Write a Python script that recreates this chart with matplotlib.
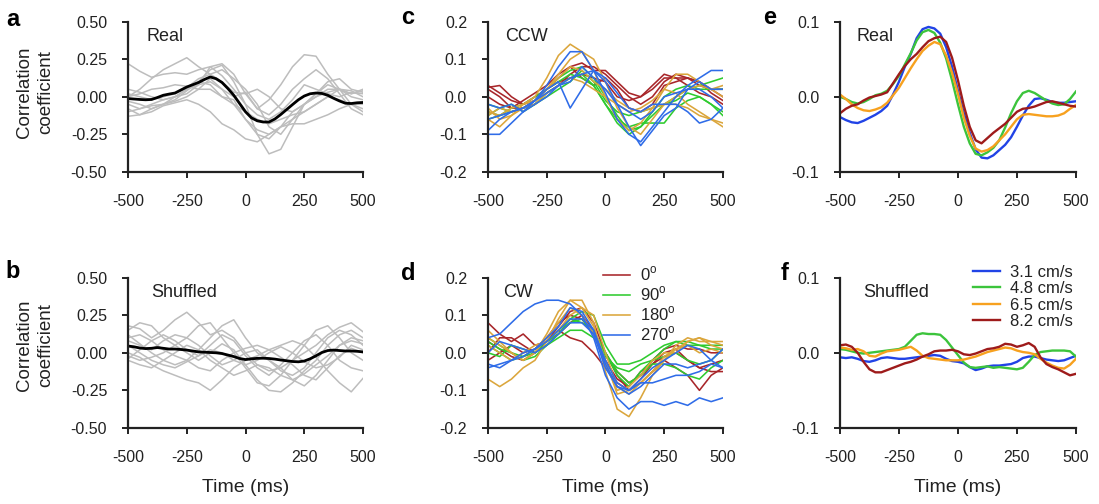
import numpy as np
import matplotlib
matplotlib.use("Agg")
import matplotlib.pyplot as plt

plt.rcParams['font.family'] = ['Liberation Sans', 'DejaVu Sans']
plt.rcParams['axes.unicode_minus'] = False

# time axes (ms)
t50 = np.arange(-500, 501, 50)
t25 = np.arange(-500, 501, 25)

# panel a: individual cells (gray) and mean (black)
a_gray = [
    [0.22, 0.17, 0.13, 0.15, 0.16, 0.15, 0.18, 0.20, 0.14, 0.05, -0.05, -0.12, -0.15, -0.10, -0.02, 0.08, 0.05, 0.02, 0.0, 0.03, 0.02],
    [0.0, 0.05, 0.12, 0.18, 0.22, 0.26, 0.20, 0.15, 0.18, 0.12, 0.05, -0.05, -0.20, -0.25, -0.15, -0.05, 0.0, 0.05, 0.05, 0.02, 0.04],
    [-0.05, -0.08, -0.05, -0.02, 0.0, 0.05, 0.10, 0.18, 0.21, 0.10, -0.05, -0.25, -0.38, -0.35, -0.20, -0.05, 0.0, 0.03, 0.05, 0.0, -0.02],
    [-0.10, -0.08, -0.06, -0.05, -0.03, 0.0, 0.05, 0.12, 0.05, 0.0, 0.03, -0.08, -0.02, 0.08, 0.20, 0.28, 0.27, 0.15, 0.05, -0.05, -0.10],
    [-0.13, -0.12, -0.08, -0.05, 0.0, 0.02, 0.08, 0.20, 0.22, 0.15, 0.02, -0.08, -0.12, -0.05, 0.05, 0.12, 0.18, 0.12, 0.02, -0.08, -0.12],
    [-0.08, -0.12, -0.10, -0.06, -0.04, -0.02, -0.05, -0.10, -0.18, -0.22, -0.28, -0.30, -0.25, -0.20, -0.18, -0.18, -0.15, -0.12, -0.08, -0.05, -0.05],
    [0.05, 0.03, 0.0, -0.02, 0.0, 0.05, 0.08, 0.10, 0.05, -0.05, -0.15, -0.22, -0.25, -0.20, -0.15, -0.10, -0.05, 0.0, 0.05, 0.04, 0.0],
    [0.02, 0.0, -0.02, 0.0, 0.02, 0.06, 0.12, 0.15, 0.10, 0.03, 0.02, 0.05, 0.0, -0.08, -0.10, -0.05, 0.02, 0.08, 0.05, 0.02, 0.05],
    [-0.03, -0.05, -0.08, -0.05, -0.02, 0.04, 0.10, 0.08, 0.0, -0.05, -0.10, -0.15, -0.18, -0.15, -0.12, -0.10, -0.05, 0.0, -0.02, -0.05, -0.08],
    [0.0, 0.02, 0.05, 0.06, 0.08, 0.07, 0.05, 0.05, 0.0, -0.02, -0.15, -0.25, -0.28, -0.20, -0.10, -0.05, 0.02, 0.10, 0.12, 0.05, 0.03],
]
a_mean = [-0.012, -0.015, -0.018, -0.020, -0.018, -0.005, 0.010, 0.018, 0.025, 0.045, 0.065, 0.080, 0.095, 0.115,
          0.132, 0.120, 0.095, 0.055, 0.010, -0.045, -0.100, -0.140, -0.160, -0.168, -0.168, -0.148, -0.118, -0.085,
          -0.052, -0.020, 0.005, 0.020, 0.025, 0.022, 0.010, -0.010, -0.028, -0.043, -0.045, -0.040, -0.038]

# panel b: shuffled
b_gray = [
    [0.18, 0.16, 0.10, 0.15, 0.22, 0.27, 0.20, 0.12, 0.15, 0.10, 0.0, -0.08, -0.12, -0.10, -0.05, 0.0, 0.05, 0.12, 0.17, 0.20, 0.14],
    [0.12, 0.06, 0.0, -0.05, -0.08, -0.05, 0.02, 0.10, 0.18, 0.22, 0.10, 0.0, -0.05, -0.10, -0.18, -0.22, -0.15, -0.05, 0.05, 0.10, 0.08],
    [0.0, -0.03, -0.08, -0.12, -0.15, -0.18, -0.20, -0.25, -0.18, -0.10, -0.05, -0.02, 0.02, 0.05, 0.08, 0.05, -0.03, -0.12, -0.20, -0.26, -0.17],
    [0.15, 0.20, 0.18, 0.10, 0.05, 0.0, -0.05, 0.0, 0.06, 0.02, -0.08, -0.18, -0.25, -0.26, -0.20, -0.12, -0.05, 0.05, 0.12, 0.15, 0.10],
    [-0.02, -0.05, -0.03, 0.0, 0.05, 0.10, 0.18, 0.20, 0.10, 0.0, -0.10, -0.20, -0.22, -0.15, -0.05, 0.05, 0.15, 0.18, 0.10, 0.0, -0.05],
    [0.08, 0.05, 0.02, 0.08, 0.12, 0.10, 0.05, -0.02, -0.08, -0.05, 0.0, 0.02, -0.05, -0.12, -0.15, -0.10, 0.0, 0.10, 0.15, 0.12, 0.05],
    [-0.05, -0.08, -0.10, -0.05, 0.0, 0.05, 0.02, -0.05, -0.10, -0.15, -0.12, -0.08, -0.10, -0.15, -0.18, -0.14, -0.08, -0.02, 0.05, 0.08, 0.06],
    [0.10, 0.12, 0.08, 0.02, -0.02, -0.05, -0.10, -0.12, -0.05, 0.0, 0.03, 0.05, 0.02, -0.03, -0.08, -0.15, -0.18, -0.10, -0.02, 0.03, 0.00],
    [-0.04, 0.02, 0.08, 0.12, 0.08, 0.02, -0.02, 0.05, 0.12, 0.08, -0.02, -0.10, -0.15, -0.08, 0.0, 0.08, 0.12, 0.05, -0.05, -0.10, -0.12],
    [0.05, 0.0, -0.05, -0.08, -0.10, -0.06, -0.02, 0.02, 0.0, -0.05, -0.08, -0.05, 0.0, 0.04, 0.0, -0.06, -0.10, -0.08, -0.03, 0.05, 0.02],
]
b_mean = [0.045, 0.040, 0.032, 0.028, 0.030, 0.035, 0.030, 0.025, 0.025, 0.022, 0.018, 0.012, 0.006, 0.004, 0.002,
          0.0, -0.005, -0.015, -0.025, -0.038, -0.045, -0.040, -0.037, -0.036, -0.038, -0.042, -0.048, -0.053,
          -0.058, -0.060, -0.055, -0.040, -0.020, 0.002, 0.015, 0.018, 0.015, 0.012, 0.012, 0.010, 0.006]

# panels c/d: directions
dir_labels = ['0$^\\mathregular{o}$', '90$^\\mathregular{o}$', '180$^\\mathregular{o}$', '270$^\\mathregular{o}$']
dir_colors = ['#a8262a', '#2fcb2f', '#dba63c', '#2f6ce8']
c_lines = {
    0: [[0.025, 0.03, 0.0, -0.02, -0.01, 0.02, 0.05, 0.08, 0.09, 0.07, 0.07, 0.04, 0.01, 0.0, 0.02, 0.05, 0.05, 0.05, 0.04, 0.02, 0.0],
        [0.02, 0.0, -0.03, -0.03, -0.02, 0.01, 0.03, 0.06, 0.08, 0.08, 0.06, 0.03, 0.0, -0.02, 0.0, 0.04, 0.06, 0.05, 0.03, 0.02, 0.02],
        [0.0, -0.02, -0.03, -0.01, 0.01, 0.03, 0.06, 0.08, 0.05, 0.03, 0.05, 0.02, -0.03, -0.04, -0.02, 0.03, 0.04, 0.05, 0.04, 0.01, -0.01],
        [0.03, 0.01, -0.01, -0.02, 0.0, 0.02, 0.04, 0.05, 0.06, 0.05, 0.04, 0.0, -0.01, 0.0, 0.03, 0.06, 0.05, 0.03, 0.01, 0.0, -0.02]],
    1: [[-0.02, -0.03, -0.04, -0.03, -0.01, 0.02, 0.05, 0.07, 0.08, 0.05, 0.0, -0.05, -0.09, -0.08, -0.05, -0.02, 0.0, 0.02, 0.03, 0.04, 0.05],
        [-0.04, -0.05, -0.04, -0.03, -0.02, 0.01, 0.03, 0.05, 0.06, 0.03, -0.02, -0.06, -0.08, -0.07, -0.07, -0.07, -0.03, -0.01, 0.0, -0.02, -0.04],
        [-0.05, -0.03, -0.02, -0.04, -0.02, 0.0, 0.02, 0.04, 0.07, 0.04, -0.01, -0.04, -0.05, -0.04, -0.03, -0.02, -0.01, 0.01, 0.0, -0.02, -0.05],
        [-0.06, -0.05, -0.03, -0.02, 0.0, 0.02, 0.04, 0.06, 0.05, 0.03, -0.02, -0.07, -0.10, -0.08, -0.04, 0.0, 0.02, 0.03, 0.02, 0.02, 0.02]],
    2: [[-0.04, -0.05, -0.03, -0.02, 0.0, 0.05, 0.11, 0.14, 0.12, 0.07, 0.0, -0.06, -0.09, -0.07, -0.03, 0.02, 0.01, -0.02, -0.04, -0.06, -0.08],
        [-0.05, -0.03, -0.04, -0.03, -0.01, 0.02, 0.06, 0.10, 0.12, 0.10, 0.04, -0.03, -0.08, -0.10, -0.06, -0.02, 0.0, 0.02, 0.03, 0.02, 0.03],
        [-0.03, -0.06, -0.05, -0.03, -0.02, 0.01, 0.03, 0.05, 0.04, 0.02, 0.0, -0.02, -0.04, -0.03, -0.01, 0.02, 0.06, 0.06, 0.04, 0.02, 0.0],
        [-0.06, -0.08, -0.05, -0.02, -0.01, 0.02, 0.05, 0.08, 0.07, 0.04, 0.02, -0.01, -0.03, -0.04, -0.03, -0.02, -0.02, -0.03, -0.05, -0.06, -0.07]],
    3: [[-0.10, -0.10, -0.07, -0.04, -0.01, 0.03, 0.08, 0.12, 0.12, 0.07, 0.01, -0.06, -0.10, -0.12, -0.08, -0.04, 0.0, 0.03, 0.05, 0.07, 0.07],
        [-0.09, -0.06, -0.04, -0.03, -0.01, 0.02, 0.04, -0.03, 0.02, 0.07, 0.04, -0.02, -0.08, -0.13, -0.09, -0.05, -0.03, 0.02, 0.04, 0.02, 0.02],
        [-0.02, -0.03, -0.02, -0.04, -0.02, 0.0, 0.03, 0.05, 0.06, 0.07, 0.05, 0.01, -0.03, -0.04, -0.02, -0.02, -0.02, -0.04, -0.07, -0.06, -0.03],
        [-0.06, -0.05, -0.04, -0.03, -0.01, 0.01, 0.03, 0.04, 0.08, 0.05, 0.02, -0.02, -0.04, -0.06, -0.04, 0.0, 0.01, 0.02, 0.02, 0.0, -0.03]],
}
d_lines = {
    0: [[0.08, 0.05, 0.03, 0.05, 0.02, 0.03, 0.07, 0.11, 0.12, 0.08, 0.0, -0.06, -0.10, -0.08, -0.05, -0.02, -0.04, -0.06, -0.10, -0.06, -0.04],
        [0.0, 0.04, 0.04, 0.02, 0.0, 0.03, 0.06, 0.04, 0.03, 0.0, -0.04, -0.08, -0.10, -0.07, -0.03, 0.0, 0.01, -0.02, -0.04, -0.05, -0.05],
        [-0.02, 0.0, 0.02, 0.0, 0.01, 0.04, 0.08, 0.10, 0.09, 0.05, 0.0, -0.05, -0.08, -0.06, -0.02, 0.01, 0.02, 0.01, 0.01, 0.0, 0.0],
        [0.03, 0.01, -0.01, -0.02, 0.0, 0.03, 0.05, 0.08, 0.10, 0.06, -0.02, -0.07, -0.09, -0.05, -0.03, -0.01, 0.0, -0.02, -0.04, -0.03, -0.02]],
    1: [[0.03, 0.01, 0.0, -0.01, 0.0, 0.03, 0.06, 0.09, 0.11, 0.10, 0.02, -0.03, -0.03, -0.02, 0.0, 0.02, 0.03, 0.02, 0.02, 0.01, 0.01],
        [0.04, 0.02, 0.0, -0.02, -0.01, 0.02, 0.05, 0.08, 0.09, 0.05, -0.01, -0.04, -0.05, -0.03, -0.02, -0.01, 0.0, -0.02, -0.03, -0.02, 0.01],
        [0.0, -0.01, 0.02, 0.01, 0.0, 0.02, 0.04, 0.06, 0.06, 0.04, 0.0, -0.05, -0.08, -0.06, -0.03, -0.03, -0.04, -0.06, -0.07, -0.04, -0.02],
        [0.02, 0.0, -0.02, -0.01, 0.01, 0.03, 0.05, 0.09, 0.08, 0.06, 0.0, -0.06, -0.09, -0.05, -0.02, 0.01, 0.03, 0.03, 0.02, 0.02, 0.02]],
    2: [[-0.07, -0.09, -0.07, -0.04, -0.02, 0.03, 0.09, 0.14, 0.14, 0.08, -0.05, -0.15, -0.17, -0.12, -0.06, -0.02, 0.01, 0.03, 0.04, 0.03, 0.03],
        [0.06, 0.03, 0.0, -0.02, 0.0, 0.05, 0.11, 0.14, 0.12, 0.07, -0.02, -0.11, -0.10, -0.08, -0.05, -0.02, 0.02, 0.04, 0.03, 0.03, 0.02],
        [0.02, 0.0, -0.02, 0.0, 0.02, 0.03, 0.06, 0.10, 0.12, 0.10, 0.0, -0.09, -0.11, -0.08, -0.05, -0.01, 0.01, 0.02, 0.0, 0.01, 0.0],
        [0.04, 0.02, 0.0, -0.02, 0.0, 0.04, 0.08, 0.12, 0.10, 0.05, -0.03, -0.10, -0.09, -0.06, -0.02, 0.0, 0.0, 0.03, 0.04, 0.02, 0.01]],
    3: [[0.04, 0.05, 0.08, 0.11, 0.13, 0.14, 0.14, 0.13, 0.10, 0.04, -0.06, -0.12, -0.15, -0.13, -0.13, -0.14, -0.13, -0.14, -0.12, -0.13, -0.12],
        [-0.03, -0.04, -0.02, 0.0, 0.01, 0.03, 0.06, 0.09, 0.09, 0.06, -0.02, -0.08, -0.10, -0.08, -0.08, -0.07, -0.06, -0.06, -0.05, -0.03, -0.04],
        [-0.04, -0.03, -0.02, -0.01, 0.01, 0.04, 0.07, 0.12, 0.11, 0.06, -0.03, -0.09, -0.10, -0.07, -0.04, -0.02, 0.0, 0.02, 0.01, -0.02, -0.04],
        [0.0, 0.03, 0.02, 0.01, 0.0, 0.02, 0.05, 0.08, 0.08, 0.05, -0.04, -0.09, -0.11, -0.09, -0.06, -0.03, -0.03, -0.04, -0.03, -0.02, 0.01]],
}

# panels e/f: speeds
speed_labels = ['3.1 cm/s', '4.8 cm/s', '6.5 cm/s', '8.2 cm/s']
speed_colors = ['#2143e6', '#3cc43c', '#f7a11f', '#9e1b1b']
e_lines = [
    [-0.027, -0.031, -0.034, -0.035, -0.032, -0.028, -0.024, -0.019, -0.012, 0.003, 0.020, 0.040, 0.057, 0.078, 0.090,
     0.093, 0.091, 0.084, 0.066, 0.040, 0.008, -0.022, -0.048, -0.070, -0.081, -0.082, -0.078, -0.071, -0.064, -0.054,
     -0.040, -0.025, -0.012, -0.003, -0.002, -0.004, -0.007, -0.008, -0.008, -0.007, -0.006],
    [0.0, -0.003, -0.007, -0.009, -0.007, -0.003, 0.002, 0.004, 0.008, 0.017, 0.028, 0.043, 0.058, 0.075, 0.086,
     0.089, 0.085, 0.072, 0.051, 0.022, -0.010, -0.040, -0.062, -0.076, -0.078, -0.074, -0.068, -0.058, -0.041, -0.022,
     -0.006, 0.005, 0.008, 0.005, 0.0, -0.005, -0.009, -0.011, -0.010, -0.003, 0.007],
    [0.003, -0.003, -0.010, -0.015, -0.018, -0.019, -0.017, -0.014, -0.008, 0.002, 0.012, 0.025, 0.038, 0.050, 0.061,
     0.068, 0.073, 0.070, 0.055, 0.032, 0.004, -0.028, -0.052, -0.069, -0.073, -0.071, -0.066, -0.058, -0.050, -0.040,
     -0.030, -0.024, -0.023, -0.024, -0.025, -0.026, -0.026, -0.025, -0.022, -0.016, -0.011],
    [-0.022, -0.016, -0.012, -0.010, -0.005, -0.001, 0.001, 0.003, 0.006, 0.018, 0.030, 0.041, 0.050, 0.057, 0.066,
     0.074, 0.078, 0.080, 0.073, 0.052, 0.022, -0.012, -0.040, -0.058, -0.062, -0.055, -0.048, -0.042, -0.036, -0.028,
     -0.020, -0.016, -0.015, -0.013, -0.010, -0.007, -0.006, -0.008, -0.010, -0.012, -0.013],
]
f_lines = [
    [-0.006, -0.007, -0.006, -0.008, -0.011, -0.012, -0.010, -0.007, -0.006, -0.007, -0.008, -0.008, -0.007, -0.006,
     -0.005, -0.004, -0.003, -0.004, -0.008, -0.011, -0.012, -0.014, -0.019, -0.023, -0.021, -0.018, -0.017, -0.017,
     -0.016, -0.015, -0.012, -0.007, -0.005, -0.005, -0.007, -0.009, -0.010, -0.011, -0.010, -0.007, -0.004],
    [0.005, 0.004, 0.002, 0.0, -0.001, 0.0, 0.001, 0.002, 0.003, 0.004, 0.005, 0.008, 0.016, 0.024, 0.026, 0.025,
     0.025, 0.024, 0.017, 0.007, -0.003, -0.013, -0.019, -0.020, -0.019, -0.018, -0.020, -0.019, -0.020, -0.021,
     -0.022, -0.020, -0.012, -0.003, 0.001, 0.002, 0.003, 0.003, 0.003, 0.002, -0.005],
    [0.007, 0.006, 0.004, 0.005, 0.002, -0.004, -0.005, -0.001, 0.002, 0.003, 0.004, 0.006, 0.008, 0.003, -0.004,
     -0.007, -0.008, -0.009, -0.010, -0.010, -0.010, -0.009, -0.007, -0.005, -0.002, 0.001, 0.003, 0.005, 0.007,
     0.006, 0.003, 0.001, 0.0, -0.002, -0.008, -0.013, -0.017, -0.020, -0.021, -0.016, -0.008],
    [0.010, 0.011, 0.008, 0.0, -0.012, -0.022, -0.026, -0.026, -0.023, -0.020, -0.017, -0.014, -0.012, -0.009,
     -0.005, -0.002, 0.002, 0.003, 0.003, 0.004, 0.002, -0.002, -0.003, -0.001, 0.002, 0.005, 0.006, 0.008, 0.012,
     0.011, 0.008, 0.010, 0.013, 0.008, -0.006, -0.015, -0.019, -0.022, -0.026, -0.030, -0.028],
]

xticks = [-500, -250, 0, 250, 500]
txt = '#222222'

fig = plt.figure(figsize=(10.99, 5.04), dpi=100)
W = 0.2138
H = 0.298
lefts = [0.1165, 0.444, 0.7643]
bottoms = [0.659, 0.151]
axs = {}
for col, L in enumerate(lefts):
    for row, B in enumerate(bottoms):
        axs['abcdef'[col * 2 + row]] = fig.add_axes([L, B, W if col < 2 else 0.2147, H])


def style(ax, ylim, yticks, ylabels, bottom):
    ax.set_xlim(-500, 500)
    ax.set_ylim(*ylim)
    ax.set_xticks(xticks)
    ax.set_xticklabels([str(v) for v in xticks])
    ax.set_yticks(yticks)
    ax.set_yticklabels(ylabels)
    for s in ['top', 'right']:
        ax.spines[s].set_visible(False)
    for s in ['left', 'bottom']:
        ax.spines[s].set_linewidth(1.6)
        ax.spines[s].set_color('#222222')
    ax.tick_params(axis='both', direction='out', length=4, width=1.4, colors='#222222',
                   labelsize=11.5, labelcolor=txt)
    ax.tick_params(axis='y', pad=11)
    ax.tick_params(axis='x', pad=12)
    ax.patch.set_alpha(0)
    if bottom:
        ax.set_xlabel('Time (ms)', fontsize=14, color=txt, labelpad=10)


# a and b
for key, gray, mean, name in [('a', a_gray, a_mean, 'Real'), ('b', b_gray, b_mean, 'Shuffled')]:
    ax = axs[key]
    for g in gray:
        ax.plot(t50, g, color='#bdbdbd', lw=1.1, solid_joinstyle='round')
    ax.plot(t25, mean, color='black', lw=2.0, solid_joinstyle='round')
    style(ax, (-0.5, 0.5), [0.5, 0.25, 0, -0.25, -0.5], ['0.50', '0.25', '0.00', '-0.25', '-0.50'], key == 'b')
    ax.text(0.08 if key == 'a' else 0.10, 0.90, name, transform=ax.transAxes, fontsize=13,
            color=txt, va='center', ha='left')

# c and d
for key, lines, name in [('c', c_lines, 'CCW'), ('d', d_lines, 'CW')]:
    ax = axs[key]
    for k in range(4):
        for i, ln in enumerate(lines[k]):
            ax.plot(t50, ln, color=dir_colors[k], lw=1.15, solid_joinstyle='round',
                    label=dir_labels[k] if i == 0 else None)
    style(ax, (-0.2, 0.2), [0.2, 0.1, 0, -0.1, -0.2], ['0.2', '0.1', '0.0', '-0.1', '-0.2'], key == 'd')
    ax.text(0.075 if key == 'c' else 0.064, 0.90, name, transform=ax.transAxes, fontsize=13,
            color=txt, va='center', ha='left')
axs['d'].legend(loc='upper left', bbox_to_anchor=(0.49, 1.085), frameon=False, fontsize=12,
                handlelength=1.6, handletextpad=0.6, labelspacing=0.08, borderpad=0, borderaxespad=0,
                labelcolor=txt)

# e and f
for key, lines, name in [('e', e_lines, 'Real'), ('f', f_lines, 'Shuffled')]:
    ax = axs[key]
    for k, ln in enumerate(lines):
        ax.plot(t25, ln, color=speed_colors[k], lw=1.7, solid_joinstyle='round', label=speed_labels[k])
    style(ax, (-0.1, 0.1), [0.1, 0, -0.1], ['0.1', '0.0', '-0.1'], key == 'f')
    ax.text(0.072 if key == 'e' else 0.097, 0.90, name, transform=ax.transAxes, fontsize=13,
            color=txt, va='center', ha='left')
axs['f'].legend(loc='upper left', bbox_to_anchor=(0.565, 1.085), frameon=False, fontsize=12,
                handlelength=1.6, handletextpad=0.6, labelspacing=0.08, borderpad=0, borderaxespad=0,
                labelcolor=txt)

# y labels for left column
for yc in [1 - 92 / 504, 1 - 345 / 504]:
    fig.text(35 / 1099, yc, 'Correlation\ncoefficient', rotation=90, ha='center', va='center',
             fontsize=13.5, color=txt, linespacing=1.35)

# panel letters
for letter, x, y in [('a', 13, 20), ('b', 13, 272), ('c', 408, 18), ('d', 408, 274), ('e', 770, 18), ('f', 785, 274)]:
    fig.text(x / 1099, 1 - y / 504, letter, fontsize=17, fontweight='bold', ha='center', va='center', color='black')

fig.savefig('out.png', dpi=100)
